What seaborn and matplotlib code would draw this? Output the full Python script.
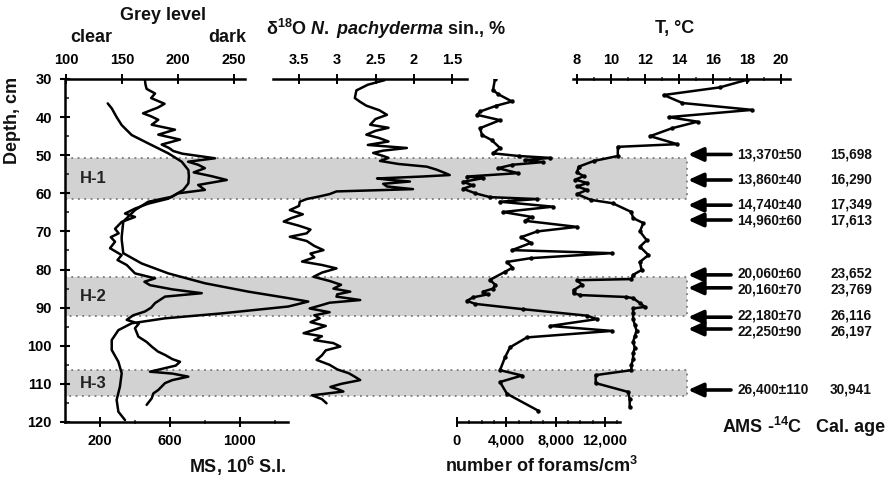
import numpy as np
import pandas as pd
import matplotlib
matplotlib.use("Agg")
import matplotlib.pyplot as plt
import seaborn as sns
from matplotlib.ticker import FixedLocator, MultipleLocator, FuncFormatter

# ---------------- data ----------------
grey_depth = [30.3, 31.5, 32.6, 33.8, 35, 36.5, 37.5, 39, 39.8, 40.7, 42, 43.3, 44.6, 45.9, 47.2, 48.1,
              48.9, 49.6, 50.8, 51.7, 52.5, 53.4, 54.5, 55.5, 56.5, 57.8, 59.1, 60, 61.4, 62.7, 64,
              65.3, 66.2, 67.5, 69.3, 70.5, 71.5, 72.7, 74.4, 76.2, 77.5, 78.8, 81, 82.3, 83.2, 84.1,
              85.2, 86.2, 87.1, 88.8, 90, 91, 92, 93.2, 94.2, 95.4, 97.6, 99, 100.2, 101.5, 102.4,
              103.5, 104.2, 105.2, 106.8, 107.3, 108.1, 109, 109.8, 111.6, 112.5, 113.8, 115.5]
grey_value = [170.5, 171, 172, 179.5, 176, 188, 182, 168.8, 176, 182.4, 176.5, 197.3, 182.4, 201.8,
              185.4, 192, 195.8, 204, 233, 209, 218, 224, 214, 230, 243.5, 218, 224, 200, 191.3,
              173.5, 161.6, 152.7, 161.6, 149.7, 143.8, 147, 140, 143.8, 139.3, 149.7, 146, 154.2,
              161.6, 179.5, 170, 175, 195, 221.2, 188.4, 179.5, 176, 170.5, 160, 154.2, 165, 161.6,
              164.6, 172, 176.5, 182, 188.4, 195, 201.8, 198, 175, 195, 209.2, 195, 188.4, 182.4,
              178, 176.5, 172]

ms_depth = [36.4, 37.7, 40, 42.1, 44.7, 46.9, 49.5, 51.7, 53.9, 55.5, 57.4, 59.1, 60.9, 62.2, 64.4,
            67.4, 71.4, 72.2, 75.7, 78.4, 81, 83.6, 85.8, 87.5, 88.4, 89.7, 91.5, 92.8, 94.1, 95.9,
            98.5, 101.1, 104.2, 107.2, 110.7, 114.2, 117.3, 119.5]
ms_value = [244, 267, 295, 324, 381, 476, 590, 667, 705, 708, 705, 676, 610, 476, 400, 333, 324, 324,
            333, 438, 590, 800, 1048, 1276, 1390, 1276, 895, 571, 381, 305, 267, 267, 305, 324, 314,
            295, 305, 343]

d18o_depth = [30.3, 31.5, 33, 35, 36, 37, 38.2, 39.4, 40.5, 42, 42.8, 43.6, 44.6, 45.5, 46.4, 47.3,
              48.1, 48.8, 49.4, 50.2, 50.7, 51.5, 52.3, 53, 53.8, 54.6, 55.2, 55.6, 56.1, 56.5, 56.9,
              57.5, 58.2, 58.9, 59.5, 60.2, 60.8, 61.5, 62.2, 63.3, 64.4, 65.5, 66.5, 67.4, 68.5,
              69.5, 70.5, 71.4, 72.5, 73.8, 74.9, 75.8, 76.8, 77.9, 78.8, 79.7, 80.8, 81.9, 83, 84,
              85, 85.8, 86.5, 87.1, 88, 88.7, 89.3, 90.2, 91.2, 92, 92.8, 93.8, 94.8, 95.8, 96.7,
              97.5, 98.5, 99.3, 100.2, 101.2, 102.5, 103.7, 105, 106.2, 107.2, 108, 109, 110, 110.8,
              111.5, 112, 113, 114, 115.1]
d18o_value = [2.38, 2.6, 2.75, 2.77, 2.7, 2.62, 2.45, 2.35, 2.5, 2.57, 2.33, 2.5, 2.62, 2.45, 2.33,
              2.6, 2.09, 2.4, 2.53, 2.4, 2.33, 2.44, 2.2, 1.83, 1.7, 1.6, 1.53, 1.9, 2.48, 2.3, 2.05,
              2.4, 2.35, 2.01, 3.01, 3.1, 3.23, 3.4, 3.49, 3.5, 3.62, 3.45, 3.6, 3.7, 3.5, 3.35, 3.4,
              3.62, 3.4, 3.3, 3.18, 3.35, 3.3, 3.46, 3.2, 3.01, 3.2, 3.31, 3.1, 2.95, 3.05, 2.83, 3.0,
              3.01, 2.7, 3.1, 3.2, 3.36, 3.1, 3.3, 3.23, 3.35, 3.15, 3.3, 3.44, 3.2, 3.3, 3.05, 2.96,
              3.15, 3.2, 3.27, 3.1, 3.0, 2.85, 2.78, 2.7, 2.95, 3.09, 2.98, 2.92, 3.33, 3.2, 3.14]

foram_depth = [30, 32.9, 34, 35.9, 37, 38.5, 39.4, 40.8, 42.9, 44.7, 46, 48.1, 49.5, 50.2, 50.7, 51.3,
               51.8, 52.5, 53.4, 54.7, 55.6, 56.0, 57, 57.9, 58.8, 60, 61, 61.5, 62.2, 63.5, 64.9,
               66.2, 67.2, 68.8, 70, 71.5, 73, 74.9, 75.7, 77, 78, 79.5, 80.6, 82.7, 84, 85, 85.8,
               86.5, 87.3, 88.2, 89, 90.4, 92.1, 93, 94.8, 96.1, 97.8, 100.4, 103, 106.4, 107.8,
               109.5, 112.6, 117]
foram_value = [3083, 2920, 3350, 4463, 3200, 1900, 1623, 3489, 1866, 2028, 2800, 3489, 2920, 5000,
               7546, 5500, 7000, 4500, 3326, 4950, 811, 2137, 487, 1298, 487, 1500, 2677, 6490, 3489,
               7789, 3732, 6085, 5500, 9737, 6500, 5200, 6000, 4463, 12576, 6000, 4057, 4500, 3895,
               2677, 3100, 2920, 2110, 2500, 1298, 811, 1460, 5354, 10550, 11363, 7546, 12576, 5679,
               4301, 3900, 3489, 5273, 3489, 4057, 6571]

temp_depth = [30.2, 32.2, 34.2, 36.3, 38.1, 40.0, 41.2, 42.9, 45.0, 47.1, 47.8, 50.2, 51.5, 53, 54.5,
              55.5, 56.4, 57.3, 58.2, 59.1, 60.2, 61.7, 62.6, 64.9, 66.5, 67.8, 70, 72.3, 74, 76.2,
              78, 80.1, 81.4, 82.5, 82.8, 84, 85.4, 86.2, 86.7, 87.2, 87.5, 88.8, 89.8, 90.2, 91.5,
              93, 94.5, 96, 97.5, 99, 100.5, 102, 103.5, 105, 106.4, 107.7, 109.8, 112.1, 114, 116]
temp_value = [18.0, 16.4, 13.1, 14.2, 18.3, 13.4, 15.1, 13.6, 12.3, 13.9, 10.4, 10.4, 9.0, 8.1, 8.0,
              8.4, 7.9, 8.6, 8.0, 8.6, 8.0, 8.8, 10.1, 11.2, 11.3, 11.9, 11.7, 12.1, 11.7, 12.2, 11.7,
              11.8, 11.3, 11.2, 8.0, 8.3, 7.8, 7.8, 8.2, 10.9, 11.3, 11.7, 12.0, 11.3, 11.3, 11.3,
              11.4, 11.5, 11.4, 11.3, 11.4, 11.3, 11.3, 11.2, 11.2, 9.1, 9.1, 11.0, 11.1, 11.1]

band_names = ["H-1", "H-2", "H-3"]
band_top = [50.7, 82.0, 106.4]
band_bottom = [61.5, 92.2, 113.2]

ams_depth = [49.8, 56.5, 63.1, 67.0, 81.4, 84.8, 92.5, 95.6, 111.6]
ams_label = ["13,370±50", "13,860±40", "14,740±40", "14,960±60", "20,060±60", "20,160±70",
             "22,180±70", "22,250±90", "26,400±110"]
cal_label = ["15,698", "16,290", "17,349", "17,613", "23,652", "23,769", "26,116", "26,197", "30,941"]

# ---------------- style ----------------
sns.set_theme(style="white")
plt.rcParams["font.family"] = ["Liberation Sans", "DejaVu Sans"]
plt.rcParams["font.weight"] = "bold"
plt.rcParams["mathtext.fontset"] = "custom"
plt.rcParams["mathtext.rm"] = "Liberation Sans:bold"
plt.rcParams["mathtext.it"] = "Liberation Sans:italic:bold"
plt.rcParams["mathtext.bf"] = "Liberation Sans:bold"
try:
    plt.rcParams["mathtext.bfit"] = "Liberation Sans:italic:bold"
except KeyError:
    pass

W, H = 891, 479
fig = plt.figure(figsize=(W / 100, H / 100), dpi=100)
L, R, T, B = 65, 790, 79, 422
rect = [L / W, 1 - B / H, (R - L) / W, (B - T) / H]
LW = 1.8
TICKFS = 10.5
TITLEFS = 13
AGEFS = 9.8

def px2frac(x):
    return (x - L) / (R - L)

# base axis: depth + bands
ax0 = fig.add_axes(rect)
ax0.set_xlim(0, 1)
ax0.set_ylim(120, 30)
for s in ["top", "right", "bottom"]:
    ax0.spines[s].set_visible(False)
ax0.spines["left"].set_color("black")
ax0.spines["left"].set_linewidth(LW)
ax0.set_xticks([])
ax0.yaxis.set_major_locator(MultipleLocator(10))
ax0.yaxis.set_minor_locator(MultipleLocator(5))
ax0.tick_params(axis="y", which="major", direction="inout", length=7, width=1.5,
                labelsize=TICKFS, pad=6, left=True, colors="black")
ax0.tick_params(axis="y", which="minor", direction="in", length=3, width=1.2, left=True)
for lab in ax0.get_yticklabels():
    lab.set_fontweight("bold")

ytr = ax0.get_yaxis_transform()
band_right = px2frac(687)
for name, t0, t1 in zip(band_names, band_top, band_bottom):
    ax0.axhspan(t0, t1, xmin=0, xmax=band_right, facecolor="#d2d2d2",
                edgecolor="#7a7a7a", linestyle=(0, (1, 2.5)), linewidth=1.3, zorder=0)
    ax0.text(px2frac(93), (t0 + t1) / 2, name, transform=ytr, ha="center", va="center",
             fontsize=12, fontweight="bold", color="#222222")

# label positions: keep close pairs just clear of each other
text_y = list(ams_depth)
min_gap = 4.15
for i in range(1, len(text_y)):
    gap = text_y[i] - text_y[i - 1]
    if gap < min_gap:
        shift = (min_gap - gap) / 2
        text_y[i - 1] -= shift
        text_y[i] += shift

# arrows and age labels
for d, ty, a, c in zip(ams_depth, text_y, ams_label, cal_label):
    ax0.annotate("", xy=(px2frac(688), d), xytext=(px2frac(731), d), xycoords=ytr,
                 textcoords=ytr,
                 arrowprops=dict(arrowstyle="-|>,head_length=0.75,head_width=0.34",
                                 lw=2.6, color="black", shrinkA=0, shrinkB=0))
    ax0.text(px2frac(737), ty, a, transform=ytr, ha="left", va="center",
             fontsize=AGEFS, fontweight="bold", color="#111111")
    ax0.text(px2frac(830), ty, c, transform=ytr, ha="left", va="center",
             fontsize=AGEFS, fontweight="bold", color="#111111")


def series_axes(xlim):
    ax = fig.add_axes(rect, facecolor="none")
    ax.set_xlim(*xlim)
    for s in ["top", "right", "bottom", "left"]:
        ax.spines[s].set_visible(False)
    ax.tick_params(axis="y", left=False, right=False, labelleft=False, labelright=False)
    ax.tick_params(axis="x", bottom=False, top=False, labelbottom=False, labeltop=False)
    return ax


def style_x(ax, side, bounds, major, minor=None, fmt=None):
    sp = ax.spines[side]
    sp.set_visible(True)
    sp.set_color("black")
    sp.set_linewidth(LW)
    sp.set_bounds(*bounds)
    ax.xaxis.set_ticks_position(side)
    ax.xaxis.set_major_locator(FixedLocator(major))
    if minor is not None:
        ax.xaxis.set_minor_locator(FixedLocator(minor))
    if fmt is not None:
        ax.xaxis.set_major_formatter(FuncFormatter(fmt))
    top = side == "top"
    ax.tick_params(axis="x", which="major", direction="inout", length=7, width=1.4,
                   labelsize=TICKFS, pad=5, top=top, bottom=not top,
                   labeltop=top, labelbottom=not top, colors="black")
    ax.tick_params(axis="x", which="minor", direction="inout", length=3.5, width=1.1,
                   top=top, bottom=not top)
    for lab in ax.get_xticklabels():
        lab.set_fontweight("bold")


def draw(ax, x, y, marker=None):
    df = pd.DataFrame({"value": x, "depth": y})
    kw = dict(marker=marker, markersize=3.2, markeredgewidth=0) if marker else {}
    sns.lineplot(data=df, x="value", y="depth", sort=False, estimator=None, orient="y",
                 ax=ax, color="black", linewidth=LW, **kw)
    ax.set_ylim(120, 30)
    ax.set_xlabel("")
    ax.set_ylabel("")


# grey level (top axis)
gx0 = 100 - 1 / 1.12
axg = series_axes((gx0, gx0 + (R - L) / 1.12))
draw(axg, grey_value, grey_depth)
style_x(axg, "top", (100, 259.8), [100, 150, 200, 250], fmt=lambda v, p: f"{v:g}")

# magnetic susceptibility (bottom axis)
axm = series_axes((0, (R - L) / 0.175))
draw(axm, ms_value, ms_depth)
style_x(axm, "bottom", (0, 1274), [200, 600, 1000], minor=[400, 800, 1200],
        fmt=lambda v, p: f"{v:g}")

# delta 18O (top axis, reversed)
axd = series_axes((3.5 + (299 - L) / 76.5, 3.5 - (R - 299) / 76.5))
draw(axd, d18o_value, d18o_depth)
style_x(axd, "top", (1.30, 3.84), [3.5, 3, 2.5, 2, 1.5], fmt=lambda v, p: f"{v:g}")

# forams (bottom axis)
fs = 0.012325
axf = series_axes((-(457 - L) / fs, (R - 457) / fs))
draw(axf, foram_value, foram_depth, marker="o")
style_x(axf, "bottom", (0, 13220), [0, 4000, 8000, 12000],
        minor=list(range(1000, 13001, 1000)), fmt=lambda v, p: f"{v:,.0f}")

# temperature (top axis)
axt = series_axes((8 - (577 - L) / 17, 8 + (R - 577) / 17))
draw(axt, temp_value, temp_depth, marker="o")
style_x(axt, "top", (7.76, 20.53), list(range(8, 21, 2)), minor=list(range(9, 21, 2)),
        fmt=lambda v, p: f"{v:g}")

# ---------------- titles ----------------
def ftext(x, y, s, **kw):
    fig.text(x / W, 1 - y / H, s, ha="center", va="center", fontsize=TITLEFS,
             fontweight="bold", color="#111111", **kw)

ftext(163, 15, "Grey level")
ftext(91, 38, "clear")
ftext(227, 38, "dark")
ftext(386, 29, r"δ$^{18}$O $\mathit{N.}$ $\mathit{pachyderma}$ sin., %")
ftext(675, 28, "T, °C")
ftext(238, 466, r"MS, 10$^{6}$ S.I.")
ftext(541, 466, r"number of forams/cm$^{3}$")
ftext(762, 427, r"AMS -$^{14}$C")
ftext(851, 427, "Cal. age")
ftext(13, 120, "Depth, cm", rotation=90)

fig.savefig("out.png", dpi=100)
